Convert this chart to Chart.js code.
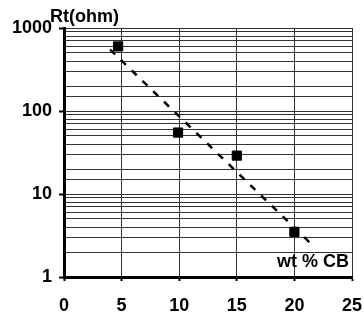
<!DOCTYPE html>
<html>
<head>
<meta charset="utf-8">
<script src="https://cdn.jsdelivr.net/npm/chart.js@4/dist/chart.umd.min.js"></script>
<style>
  html, body { margin: 0; padding: 0; background: #fff; }
  #wrap { width: 364px; height: 320px; }
</style>
</head>
<body>
<div id="wrap"><canvas id="c" width="364" height="320"></canvas></div>
<script>
// measured points: resistance vs carbon black content
const wtCB = [4.7, 9.9, 15, 20];
const rt = [600, 55, 29, 3.5];

// dashed fit line end points
const fitX = [4.0, 21.4];
const fitY = [550, 2.55];

const xTicks = [0, 5, 10, 15, 20, 25];
const yMajor = [1, 10, 100, 1000];

const FONT = { family: "'Liberation Sans', Arial, sans-serif", size: 18, weight: "bold" };

const isMajor = (v) => yMajor.includes(Math.round(v));

// axis captions drawn inside / above the plot
const captions = {
  id: "captions",
  afterDraw(chart) {
    const { ctx, chartArea } = chart;
    ctx.save();
    ctx.fillStyle = "#000";
    ctx.font = "bold 18px 'Liberation Sans', Arial, sans-serif";
    ctx.textBaseline = "alphabetic";
    ctx.textAlign = "left";
    ctx.fillText("Rt(ohm)", chartArea.left - 14, chartArea.top - 6);
    ctx.textAlign = "right";
    ctx.fillText("wt % CB", chartArea.right - 3, chartArea.bottom - 10);
    ctx.restore();
  },
};

Chart.defaults.color = "#000";
Chart.defaults.font = FONT;

new Chart(document.getElementById("c"), {
  type: "scatter",
  data: {
    datasets: [
      {
        label: "fit",
        data: fitX.map((x, i) => ({ x, y: fitY[i] })),
        showLine: true,
        borderColor: "#000",
        borderWidth: 2.5,
        borderDash: [7, 8],
        pointRadius: 0,
      },
      {
        label: "Rt",
        data: wtCB.map((x, i) => ({ x, y: rt[i] })),
        pointStyle: "rect",
        pointRadius: 6.5,
        backgroundColor: "#000",
        borderColor: "#000",
      },
    ],
  },
  options: {
    responsive: false,
    animation: false,
    layout: { padding: { top: 28, right: 0, left: 0, bottom: 0 } },
    plugins: {
      legend: { display: false },
      tooltip: { enabled: false },
    },
    scales: {
      x: {
        type: "linear",
        min: 0,
        max: 25,
        afterBuildTicks: (s) => { s.ticks = xTicks.map((v) => ({ value: v })); },
        afterFit: (s) => { s.height = 43; s.paddingRight = 12; },
        ticks: { padding: 14, font: FONT },
        grid: { color: "#333", lineWidth: 1, tickLength: 4, tickColor: "#000", tickWidth: 2 },
        border: { color: "#000", width: 3 },
      },
      y: {
        type: "logarithmic",
        min: 1,
        max: 1000,
        afterFit: (s) => { s.width = 64; },
        ticks: {
          autoSkip: false,
          padding: 7,
          font: FONT,
          callback: (v) => (isMajor(v) ? String(Math.round(v)) : ""),
        },
        grid: {
          color: "#333",
          lineWidth: 1,
          tickLength: 5,
          tickWidth: 2,
          tickColor: (ctx) => (ctx.tick && isMajor(ctx.tick.value) ? "#000" : "rgba(0,0,0,0)"),
        },
        border: { color: "#000", width: 3 },
      },
    },
  },
  plugins: [captions],
});
</script>
</body>
</html>
